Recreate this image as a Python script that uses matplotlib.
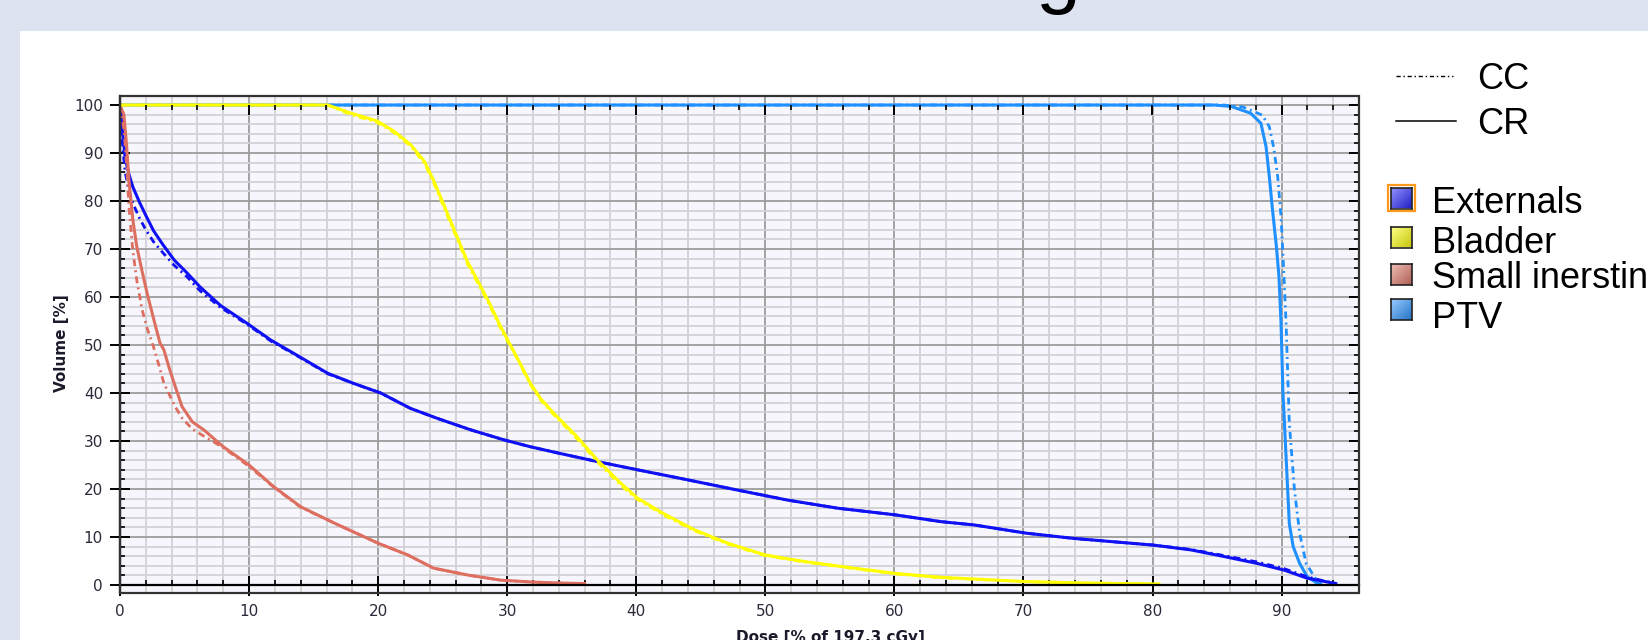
import numpy as np
import matplotlib
matplotlib.use('Agg')
import matplotlib.pyplot as plt
from matplotlib.patches import Rectangle
from matplotlib.lines import Line2D
from matplotlib.ticker import MultipleLocator
from matplotlib.colors import to_rgb

# DVH curves: dose [% of 197.3 cGy] vs volume [%]
# CC = dash-dot, CR = solid
ext_dose = [0, 0.1, 0.25, 0.4, 0.7, 1.0, 1.5, 2.0, 2.6, 3.3, 4.2, 5.2, 6.2, 7.8, 9.8,
            11.7, 13.5, 16.1, 18.1, 20.2, 22.5, 24.6, 27.2, 29.8, 31.8, 34.1, 37.0,
            40.1, 44.0, 47.8, 51.7, 55.6, 60.1, 63.6, 66.2, 70.2, 73.9, 80.1, 83.0,
            85.6, 88.1, 90.2, 92.0, 93.2, 94.2]
ext_cr_vol = [100, 97, 93, 89, 85.5, 82.9, 79.8, 77, 73.8, 71, 67.7, 65, 62.1, 58.2, 54.6,
              51.0, 48.2, 44.1, 42, 40, 36.8, 34.7, 32.3, 30.2, 28.8, 27.4, 25.7,
              24.0, 21.9, 19.8, 17.7, 16.0, 14.6, 13.2, 12.5, 10.8, 9.7, 8.3, 7.3,
              5.9, 4.5, 3.1, 1.4, 0.8, 0.3]
ext_cc_vol = [100, 95, 90, 86, 82, 79.5, 76.5, 74, 71.5, 69.3, 66.6, 64.2, 61.3, 57.8, 54.4,
              50.8, 48.1, 44.0, 42, 40, 36.8, 34.7, 32.3, 30.2, 28.8, 27.4, 25.7,
              24.0, 21.9, 19.8, 17.7, 16.0, 14.6, 13.2, 12.5, 10.8, 9.7, 8.3, 7.4,
              6.1, 4.8, 3.4, 1.7, 0.9, 0.3]

si_dose = [0, 0.3, 0.5, 0.7, 1.0, 1.3, 1.7, 2.1, 2.6, 3.1, 3.4, 3.8, 4.2, 4.8, 5.6,
           6.5, 8.0, 10.0, 11.9, 14.0, 16.6, 20.0, 22.3, 24.3, 26.9, 29.5, 32.0, 34.0, 36.0]
si_cr_vol = [100, 98, 92, 84, 76, 70.5, 65.5, 60.8, 55.5, 50.4, 49, 45.3, 42, 37.2, 34,
             32.3, 28.8, 25, 20.5, 16.3, 12.9, 8.7, 6.25, 3.5, 2.1, 1.0, 0.6, 0.4, 0.3]
si_cc_vol = [100, 95, 88, 78.5, 69.5, 63.5, 57.5, 53.5, 49.6, 45, 42, 39.8, 37.5, 34.8, 32.5,
             31, 28.6, 24.7, 20.4, 16.2, 12.9, 8.7, 6.25, 3.5, 2.1, 1.0, 0.6, 0.4, 0.3]

bl_dose = [0, 16.1, 17.9, 19.9, 21.2, 22.5, 23.6, 24.3, 25.4, 26.9, 28.5, 29.5, 30.8,
           31.8, 32.6, 33.6, 35.4, 37.0, 38.8, 40.1, 42.1, 44.5, 47.1, 50.0, 53.0,
           56.9, 60.1, 63.6, 70.2, 75.0, 80.5]
bl_cr_vol = [100, 100, 98.3, 96.7, 94.6, 91.8, 88.2, 84.3, 77.2, 67.5, 59.4, 53.8, 47.2,
             42.0, 38.8, 35.8, 30.9, 26.0, 21.2, 18.1, 14.9, 11.5, 8.7, 6.25, 4.9,
             3.5, 2.4, 1.6, 0.7, 0.4, 0.2]
bl_cc_vol = [100, 100, 98.0, 96.4, 94.3, 91.5, 87.8, 83.8, 76.7, 67.0, 59.0, 53.4, 47.0,
             41.7, 38.5, 35.5, 30.5, 25.6, 20.8, 17.8, 14.6, 11.3, 8.5, 6.1, 4.8,
             3.4, 2.3, 1.5, 0.7, 0.4, 0.2]

ptv_cr_dose = [0, 84.8, 86.1, 87.6, 88.4, 88.8, 89.05, 89.3, 89.6, 89.8, 89.96, 90.1,
               90.35, 90.6, 90.9, 91.4, 92.0, 92.8]
ptv_cr_vol = [100, 100, 99.7, 98.3, 96.2, 91.3, 85.1, 78.1, 70.5, 64.2, 54.5, 40.6,
              26.7, 12.8, 8.0, 4.5, 1.7, 0.3]
ptv_cc_dose = [0, 85.5, 87.0, 88.5, 89.05, 89.4, 89.7, 89.96, 90.1, 90.35, 90.6, 91.0,
               91.4, 91.9, 92.7, 93.1]
ptv_cc_vol = [100, 100, 99.6, 97.9, 95.5, 91.0, 85.1, 76.7, 69.4, 54.5, 33.7, 19.8,
              10.8, 4.5, 1.0, 0.2]

structures = ['Externals', 'Bladder', 'Small inerstine', 'PTV']
colors = ['#1010f5', '#ffff00', '#de6f60', '#1e90ff']
swatch_colors = ['#2a2aff', '#ffff10', '#e07a6a', '#2f95ff']

W, H = 1648, 640
fig = plt.figure(figsize=(W / 100, H / 100), dpi=100)
fig.patch.set_facecolor('#dde3f0')


def fx(px):
    return px / W


def fy(py):
    return 1 - py / H


# white slide panel
fig.add_artist(Rectangle((fx(20), 0), 1, fy(31), transform=fig.transFigure,
                         facecolor='white', edgecolor='none', zorder=-10))

# plot area in pixels
x0, x1, y0, y1 = 120, 1359, 96, 593
ylo, yhi = -1.67, 101.88
ax = fig.add_axes([fx(x0), fy(y1), (x1 - x0) / W, (y1 - y0) / H])
ax.set_xlim(0, 96)
ax.set_ylim(ylo, yhi)
ax.set_facecolor('#f6f6fc')

cc_ls = (0, (2.5, 1.5, 0.7, 1.5))
curves = [
    (ptv_cc_dose, ptv_cc_vol, ptv_cr_dose, ptv_cr_vol, colors[3]),
    (ext_dose, ext_cc_vol, ext_dose, ext_cr_vol, colors[0]),
    (si_dose, si_cc_vol, si_dose, si_cr_vol, colors[2]),
    (bl_dose, bl_cc_vol, bl_dose, bl_cr_vol, colors[1]),
]
for ccx, ccy, crx, cry, c in curves:
    ax.plot(ccx, ccy, color=c, lw=2.0, ls=cc_ls)
    ax.plot(crx, cry, color=c, lw=2.2)

# grid
ax.xaxis.set_major_locator(MultipleLocator(10))
ax.xaxis.set_minor_locator(MultipleLocator(2))
ax.yaxis.set_major_locator(MultipleLocator(10))
ax.yaxis.set_minor_locator(MultipleLocator(2))
ax.set_axisbelow(True)
ax.grid(which='minor', color='#d2d2d6', lw=1.3)
ax.grid(which='major', color='#9c9c9c', lw=1.3)

# spines: axis lines at x=0 and y=0, frame around plot area
for s in ax.spines.values():
    s.set_visible(False)
ax.spines['left'].set_visible(True)
ax.spines['left'].set_color('k')
ax.spines['left'].set_linewidth(1.6)
ax.spines['bottom'].set_visible(True)
ax.spines['bottom'].set_position(('data', 0))
ax.spines['bottom'].set_color('k')
ax.spines['bottom'].set_linewidth(1.6)
ax.add_patch(Rectangle((0, 0), 1, 1, transform=ax.transAxes, fill=False,
                       ec='#333333', lw=1.6, clip_on=False, zorder=5))

ax.tick_params(which='both', top=False, right=False, colors='k', labelcolor='#2a2a3a')
ax.tick_params(axis='x', which='major', direction='inout', length=16, width=1.4,
               pad=5.5, labelsize=11)
ax.tick_params(axis='x', which='minor', direction='in', length=3.6, width=1.2)
ax.tick_params(axis='y', which='major', direction='inout', length=14.4, width=1.4,
               pad=5, labelsize=11)
ax.tick_params(axis='y', which='minor', direction='in', length=3.6, width=1.2)

# ticks hanging from the 100 % line
top = ax.secondary_xaxis((100 - ylo) / (yhi - ylo))
top.set_zorder(4)
top.xaxis.set_major_locator(MultipleLocator(10))
top.xaxis.set_minor_locator(MultipleLocator(2))
top.tick_params(which='major', direction='in', length=7.2, width=1.4,
                labeltop=False, labelbottom=False, colors='k')
top.tick_params(which='minor', direction='in', length=3.6, width=1.2, colors='k')
for s in top.spines.values():
    s.set_visible(False)

# ticks on the right frame
rt = ax.secondary_yaxis('right')
rt.set_zorder(4)
rt.yaxis.set_major_locator(MultipleLocator(10))
rt.yaxis.set_minor_locator(MultipleLocator(2))
rt.tick_params(which='major', direction='in', length=7.2, width=1.4,
               labelright=False, colors='k')
rt.tick_params(which='minor', direction='in', length=3.6, width=1.2, colors='k')
for s in rt.spines.values():
    s.set_visible(False)

ax.set_xlabel('Dose [% of 197.3 cGy]', fontsize=11, fontweight='bold', color='#1a1a2a')
ax.xaxis.set_label_coords((830 - x0) / (x1 - x0), (y1 - 630) / (y1 - y0))
ax.set_ylabel('Volume [%]', fontsize=11, fontweight='bold', color='#1a1a2a')
ax.yaxis.set_label_coords((62 - x0) / (x1 - x0), (y1 - 343) / (y1 - y0))
ax.yaxis.label.set_verticalalignment('center')

# legend: line styles
lfont = dict(fontsize=26, family='Liberation Sans', va='baseline', color='k')
fig.add_artist(Line2D([fx(1396), fx(1453)], [fy(76), fy(76)], color='k', lw=1.0,
                      ls=(0, (3, 2, 1, 2))))
fig.add_artist(Line2D([fx(1396), fx(1456)], [fy(121), fy(121)], color='k', lw=1.1))
fig.text(fx(1477), fy(89), 'CC', **lfont)
fig.text(fx(1477), fy(134), 'CR', **lfont)

# legend: structures with gradient swatches
sw_centers = [198, 237, 274.5, 309.5]
txt_base = [213, 253, 288, 328]
t = np.linspace(0, 1, 24)
g = (t[:, None] + t[None, :]) / 2
size = 21
for name, col, cy, by in zip(structures, swatch_colors, sw_centers, txt_base):
    base = np.array(to_rgb(col))
    light = base + (1 - base) * 0.5
    dark = base * 0.78
    img = light[None, None, :] * (1 - g[..., None]) + dark[None, None, :] * g[..., None]
    sa = fig.add_axes([fx(1401.5 - size / 2), fy(cy + size / 2), size / W, size / H])
    sa.imshow(img, aspect='auto', interpolation='bilinear')
    sa.set_xticks([])
    sa.set_yticks([])
    for s in sa.spines.values():
        s.set_color('#222222')
        s.set_linewidth(1.2)
    fig.text(fx(1432), fy(by), name, **lfont)

# selection frame around the first swatch
fig.add_artist(Rectangle((fx(1388), fy(211)), 27 / W, 26 / H, transform=fig.transFigure,
                         fill=False, ec='#ff9a1f', lw=1.6))

# clipped title descender at the top of the slide
fig.text(fx(1058), fy(-2), 'g', fontsize=58, family='Liberation Sans',
         ha='center', va='baseline', color='k')

fig.savefig('out.png', dpi=100)
